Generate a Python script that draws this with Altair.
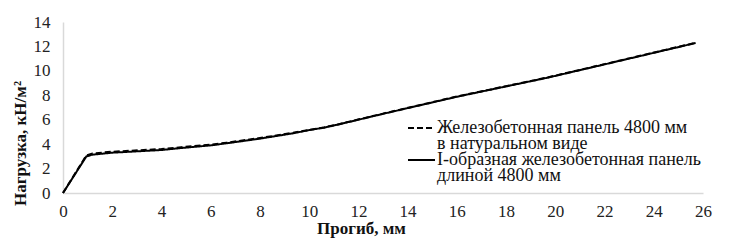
import altair as alt
import pandas as pd

series_names = [
    "Железобетонная панель 4800 мм|в натуральном виде",
    "I-образная железобетонная панель|длиной 4800 мм",
]

x_dashed = [0, 0.95, 1.2, 2, 4, 4.8, 6, 6.65, 8, 9.35, 10, 10.6, 11.1, 13, 16, 19.66, 22, 25.7]
y_dashed = [0, 3.08, 3.24, 3.38, 3.6, 3.75, 3.96, 4.12, 4.5, 4.93, 5.17, 5.37, 5.58, 6.5, 7.9, 9.45, 10.55, 12.3]

x_solid = [0, 0.95, 1.2, 2, 4, 4.8, 6, 6.65, 8, 9.35, 10, 10.6, 11.1, 13, 16, 19.66, 22, 25.7]
y_solid = [0, 3.0, 3.14, 3.3, 3.52, 3.68, 3.9, 4.07, 4.45, 4.89, 5.15, 5.35, 5.57, 6.48, 7.88, 9.43, 10.53, 12.28]

x_ticks = list(range(0, 27, 2))
y_ticks = list(range(0, 15, 2))

rows = []
for i, (xv, yv) in enumerate(zip(x_dashed, y_dashed)):
    rows.append({"s": series_names[0], "x": xv, "y": yv, "o": i})
for i, (xv, yv) in enumerate(zip(x_solid, y_solid)):
    rows.append({"s": series_names[1], "x": xv, "y": yv, "o": i})
df = pd.DataFrame(rows)

FONT = "Liberation Serif"
DASHES = [[6, 3], [1, 0]]

lines = (
    alt.Chart(df)
    .mark_line(strokeWidth=2, color="black")
    .encode(
        x=alt.X(
            "x:Q",
            scale=alt.Scale(domain=[0, 26], nice=False),
            axis=alt.Axis(
                values=x_ticks,
                title="Прогиб, мм",
                titleX=298,
                titleY=35,
                titleBaseline="middle",
                titleAlign="center",
                labelFlush=False,
            ),
        ),
        y=alt.Y(
            "y:Q",
            scale=alt.Scale(domain=[0, 14], nice=False),
            axis=alt.Axis(
                values=y_ticks,
                title="Нагрузка, кН/м²",
                titleX=-43,
                titleY=121,
                titleAngle=270,
                titleBaseline="middle",
                titleAlign="center",
                labelFlush=False,
            ),
        ),
        strokeDash=alt.StrokeDash(
            "s:N",
            scale=alt.Scale(domain=series_names, range=DASHES),
            legend=None,
        ),
        order="o:Q",
        detail="s:N",
    )
)

# legend (drawn as guide annotation)
one = pd.DataFrame({"k": [0]})
legend_layers = []
row_y = [106, 138]
for name, dash, ry in zip(series_names, DASHES, row_y):
    legend_layers.append(
        alt.Chart(one)
        .mark_rule(color="black", strokeWidth=2, strokeDash=dash)
        .encode(x=alt.value(345), x2=alt.value(372), y=alt.value(ry))
    )
    legend_layers.append(
        alt.Chart(one)
        .mark_text(
            text=name.split("|"),
            font=FONT,
            fontSize=18,
            lineHeight=16,
            align="left",
            baseline="alphabetic",
            color="#111111",
        )
        .encode(x=alt.value(374), y=alt.value(ry + 4.5))
    )

chart = (
    alt.layer(lines, *legend_layers)
    .properties(
        width=640,
        height=171,
        autosize=alt.AutoSizeParams(type="none"),
        padding={"left": 55, "top": 14, "right": 26, "bottom": 45},
    )
    .configure_view(stroke=None)
    .configure_axis(
        grid=False,
        ticks=False,
        domainColor="#d9d9d9",
        domainWidth=1.5,
        labelFont=FONT,
        labelFontSize=17,
        labelColor="#222222",
        titleFont=FONT,
        titleFontSize=17,
        titleFontWeight="bold",
        titleColor="#111111",
    )
    .configure_axisX(labelPadding=10)
    .configure_axisY(labelPadding=13)
)

chart.save("out.html", embed_options={"renderer": "svg", "actions": False})
